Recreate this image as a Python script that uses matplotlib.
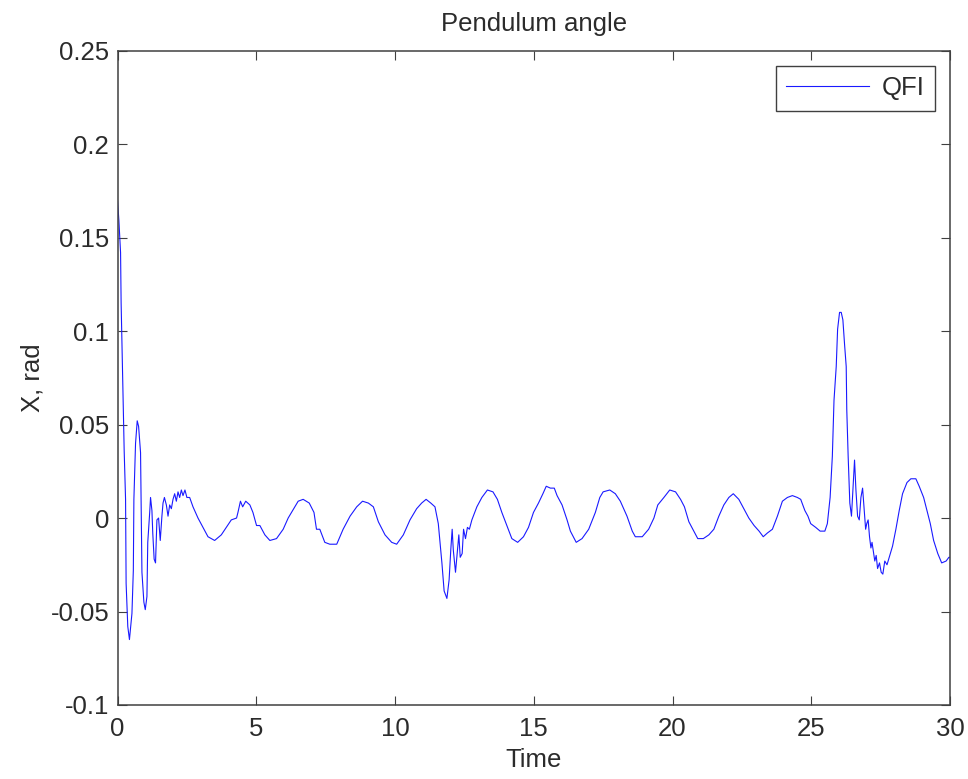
import matplotlib
matplotlib.use('Agg')
import matplotlib.pyplot as plt

# values (time [s], pendulum angle [rad])
time = [0.00, 0.05, 0.11, 0.13, 0.19, 0.24, 0.29, 0.31, 0.37, 0.43, 0.52, 0.57, 0.59, 0.65,
        0.71, 0.76, 0.83, 0.88, 0.95, 1.00, 1.06, 1.09, 1.16, 1.19, 1.24, 1.27, 1.32, 1.37,
        1.42, 1.48, 1.54, 1.60, 1.64, 1.69, 1.76, 1.82, 1.88, 1.94, 2.00, 2.06, 2.12, 2.18,
        2.24, 2.30, 2.36, 2.43, 2.50, 2.60, 2.72, 2.90, 3.08, 3.26, 3.50, 3.74, 3.92, 4.10,
        4.29, 4.34, 4.43, 4.51, 4.62, 4.77, 4.88, 5.01, 5.13, 5.31, 5.49, 5.73, 5.97, 6.15,
        6.31, 6.51, 6.69, 6.91, 7.08, 7.17, 7.29, 7.47, 7.65, 7.90, 8.13, 8.38, 8.62, 8.83,
        9.04, 9.22, 9.40, 9.64, 9.88, 10.06, 10.30, 10.54, 10.78, 10.96, 11.12, 11.29, 11.44,
        11.56, 11.69, 11.77, 11.87, 11.95, 12.01, 12.06, 12.10, 12.18, 12.24, 12.30, 12.35,
        12.42, 12.47, 12.54, 12.61, 12.68, 12.77, 12.95, 13.13, 13.33, 13.53, 13.69, 13.85,
        14.03, 14.21, 14.42, 14.63, 14.81, 14.99, 15.17, 15.33, 15.45, 15.60, 15.74, 15.84,
        16.02, 16.20, 16.32, 16.53, 16.74, 16.98, 17.22, 17.38, 17.50, 17.74, 17.94, 18.12,
        18.36, 18.55, 18.66, 18.91, 19.14, 19.33, 19.47, 19.69, 19.90, 20.11, 20.29, 20.43,
        20.59, 20.77, 20.91, 21.11, 21.31, 21.49, 21.67, 21.85, 22.03, 22.19, 22.39, 22.57,
        22.75, 22.94, 23.12, 23.27, 23.42, 23.60, 23.78, 23.96, 24.14, 24.32, 24.50, 24.62,
        24.77, 24.88, 24.98, 25.16, 25.32, 25.49, 25.58, 25.68, 25.76, 25.82, 25.90, 25.95,
        26.02, 26.08, 26.14, 26.20, 26.26, 26.28, 26.33, 26.39, 26.45, 26.50, 26.56, 26.61,
        26.67, 26.73, 26.79, 26.85, 26.91, 26.96, 27.00, 27.05, 27.10, 27.15, 27.19, 27.25,
        27.29, 27.34, 27.39, 27.46, 27.52, 27.58, 27.65, 27.73, 27.81, 27.93, 28.05, 28.17,
        28.29, 28.45, 28.59, 28.77, 28.89, 29.05, 29.17, 29.29, 29.41, 29.56, 29.70, 29.86,
        29.96, 30.00]
angle = [0.170, 0.159, 0.142, 0.115, 0.072, 0.036, 0.010, -0.035, -0.058, -0.065, -0.051,
         -0.028, 0.010, 0.040, 0.052, 0.049, 0.035, -0.029, -0.045, -0.049, -0.042, -0.013,
         0.003, 0.011, 0.004, -0.008, -0.022, -0.024, -0.001, 0.000, -0.012, 0.001, 0.008,
         0.011, 0.007, 0.001, 0.007, 0.005, 0.010, 0.013, 0.009, 0.014, 0.011, 0.015, 0.012,
         0.015, 0.011, 0.011, 0.006, 0.000, -0.005, -0.010, -0.012, -0.009, -0.005, -0.001,
         0.000, 0.003, 0.009, 0.006, 0.009, 0.007, 0.003, -0.004, -0.004, -0.009, -0.012,
         -0.011, -0.006, 0.000, 0.004, 0.009, 0.010, 0.008, 0.003, -0.006, -0.006, -0.013,
         -0.014, -0.014, -0.006, 0.001, 0.006, 0.009, 0.008, 0.006, -0.002, -0.009, -0.013,
         -0.014, -0.009, -0.001, 0.005, 0.008, 0.010, 0.008, 0.006, -0.003, -0.024, -0.039,
         -0.043, -0.033, -0.017, -0.006, -0.017, -0.029, -0.019, -0.009, -0.021, -0.019,
         -0.006, -0.011, -0.005, -0.006, -0.001, 0.006, 0.011, 0.015, 0.014, 0.010, 0.003,
         -0.004, -0.011, -0.013, -0.010, -0.005, 0.003, 0.008, 0.013, 0.017, 0.016, 0.016,
         0.012, 0.007, -0.001, -0.007, -0.013, -0.011, -0.006, 0.003, 0.011, 0.014, 0.015,
         0.013, 0.009, 0.001, -0.007, -0.010, -0.010, -0.006, 0.000, 0.007, 0.011, 0.015,
         0.014, 0.010, 0.006, -0.002, -0.007, -0.011, -0.011, -0.009, -0.006, 0.001, 0.007,
         0.011, 0.013, 0.010, 0.005, 0.000, -0.004, -0.007, -0.010, -0.008, -0.006, 0.001,
         0.009, 0.011, 0.012, 0.011, 0.010, 0.004, 0.001, -0.003, -0.005, -0.007, -0.007,
         -0.003, 0.011, 0.033, 0.063, 0.081, 0.101, 0.110, 0.110, 0.106, 0.093, 0.081, 0.058,
         0.033, 0.008, 0.001, 0.015, 0.031, 0.015, 0.001, -0.001, 0.011, 0.016, 0.004, -0.006,
         -0.003, -0.001, -0.010, -0.016, -0.013, -0.019, -0.023, -0.020, -0.027, -0.024,
         -0.029, -0.030, -0.023, -0.025, -0.021, -0.015, -0.006, 0.004, 0.013, 0.019, 0.021,
         0.021, 0.017, 0.011, 0.004, -0.003, -0.012, -0.019, -0.024, -0.023, -0.021, -0.021]

x_ticks = [0, 5, 10, 15, 20, 25, 30]
y_ticks = [-0.1, -0.05, 0, 0.05, 0.1, 0.15, 0.2, 0.25]
y_ticklabels = ['-0.1', '-0.05', '0', '0.05', '0.1', '0.15', '0.2', '0.25']

plt.rcParams['font.family'] = ['Liberation Sans', 'DejaVu Sans']
txt = '#2b2b2b'
edge = '#404040'

fig = plt.figure(figsize=(9.68, 7.79), dpi=100)
ax = fig.add_axes([0.1214, 0.095, 0.86, 0.84])

ax.plot(time, angle, color='#1a1aff', lw=0.8, label='QFI')

ax.set_xlim(0, 30)
ax.set_ylim(-0.1, 0.25)
ax.set_xticks(x_ticks)
ax.set_yticks(y_ticks)
ax.set_yticklabels(y_ticklabels)
ax.tick_params(direction='in', top=True, right=True, length=6.5, width=0.8,
               colors=edge, labelcolor=txt, labelsize=18.5, pad=6)
ax.tick_params(axis='x', pad=9)
for s in ax.spines.values():
    s.set_color(edge)
    s.set_linewidth(1.1)

ax.set_title('Pendulum angle', fontsize=18.5, color=txt, pad=14)
ax.set_xlabel('Time', fontsize=18.5, color=txt, labelpad=5)
ax.set_ylabel('X, rad', fontsize=18.5, color=txt, labelpad=4)

leg = ax.legend(loc='upper right', fontsize=18.5, fancybox=False, framealpha=1,
                edgecolor=edge, handlelength=3.2, borderpad=0.4,
                borderaxespad=0.6, handletextpad=0.5)
for t in leg.get_texts():
    t.set_color(txt)
leg.get_frame().set_linewidth(1.0)

fig.savefig('out.png', dpi=100)
